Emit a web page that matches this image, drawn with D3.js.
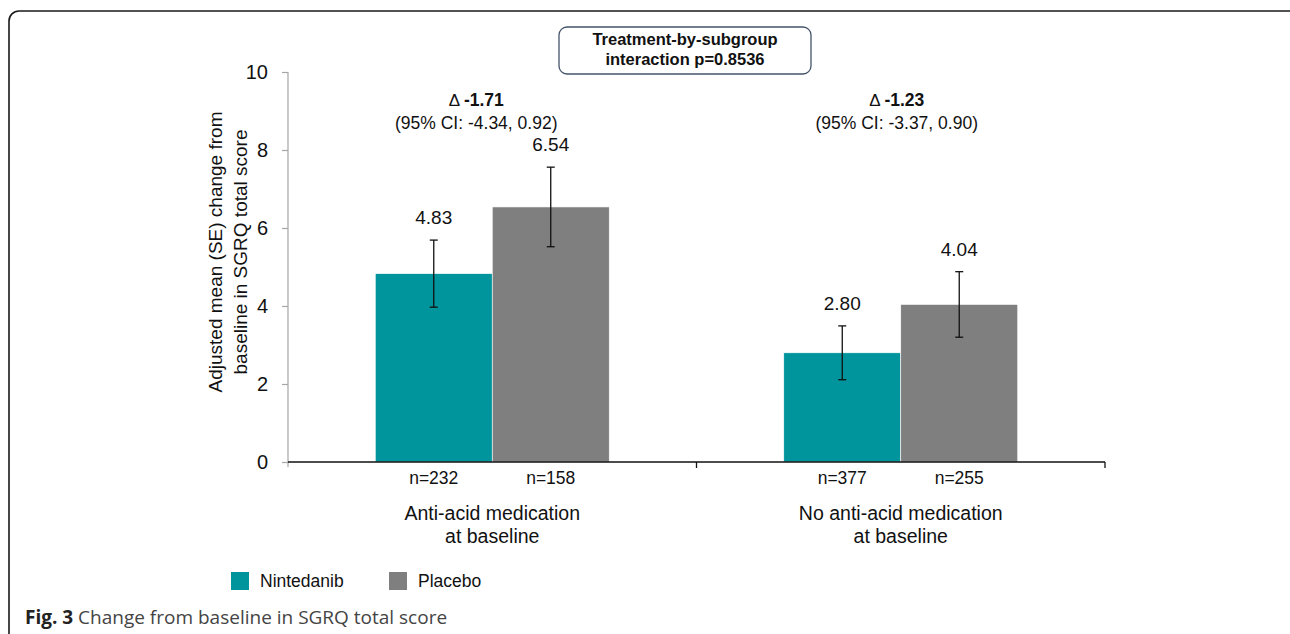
<!DOCTYPE html>
<html>
<head>
<meta charset="utf-8">
<script src="https://cdn.jsdelivr.net/npm/d3@7"></script>
<style>
  body { margin: 0; background: #fff; }
  svg { display: block; font-family: "Liberation Sans", Arial, sans-serif; }
</style>
</head>
<body>
<svg id="chart" width="1290" height="634"></svg>
<script>
// data
const groups = ['Anti-acid medication|at baseline', 'No anti-acid medication|at baseline']
const series = ['Nintedanib', 'Placebo']
const colors = ['#00949d', '#7f7f7f']
const means = [[4.83, 6.54], [2.80, 4.04]]
const errors = [[0.86, 1.02], [0.69, 0.84]]
const counts = [['n=232', 'n=158'], ['n=377', 'n=255']]
const deltas = ['-1.71', '-1.23']
const deltaCI = ['(95% CI: -4.34, 0.92)', '(95% CI: -3.37, 0.90)']
const yTicks = [0, 2, 4, 6, 8, 10]
const interaction = ['Treatment-by-subgroup', 'interaction p=0.8536']

const svg = d3.select('#chart')

// outer rounded frame (right/bottom edges run off the page)
svg.append('rect')
    .attr('x', 9).attr('y', 11)
    .attr('width', 1300).attr('height', 700)
    .attr('rx', 10)
    .attr('fill', 'none')
    .attr('stroke', '#1a1a1a')
    .attr('stroke-width', 1.6)

const margin = {left: 288, right: 185, top: 72, bottom: 172}
const width = 1290 - margin.left - margin.right
const height = 634 - margin.top - margin.bottom

const g = svg.append('g').attr('transform', `translate(${margin.left}, ${margin.top})`)

const x0 = d3.scaleBand().domain(d3.range(groups.length)).range([0, width]).paddingInner(0)
const x1 = d3.scaleBand().domain(d3.range(series.length)).range([0, x0.bandwidth()])
    .paddingInner(0).paddingOuter(0.746)
const y = d3.scaleLinear().domain([0, 10]).range([height, 0])

// y axis
const yAxis = g.append('g')
    .call(d3.axisLeft(y).tickValues(yTicks).tickSize(6).tickPadding(14).tickSizeOuter(0))
yAxis.select('.domain').attr('stroke', '#a6a6a6').attr('stroke-width', 1.2)
    .attr('d', `M0,0V${height + 5}`)
yAxis.selectAll('.tick line').attr('stroke', '#a6a6a6').attr('stroke-width', 1.2)
yAxis.selectAll('.tick text')
    .attr('font-size', 20).attr('fill', '#111')
    .attr('font-family', '"Liberation Sans", Arial, sans-serif')

// y axis title
const yTitle = g.append('text')
    .attr('transform', `translate(-66, ${height / 2 - 15}) rotate(-90)`)
    .attr('text-anchor', 'middle')
    .attr('font-size', 19)
    .attr('fill', '#111')
yTitle.append('tspan').attr('x', 0).attr('dy', 0).text('Adjusted mean (SE) change from')
yTitle.append('tspan').attr('x', 0).attr('dy', 25).text('baseline in SGRQ total score')

// bars
const grp = g.selectAll('.group').data(groups).enter().append('g')
    .attr('class', 'group')
    .attr('transform', (d, i) => `translate(${x0(i)}, 0)`)

grp.each(function(d, gi) {
    const sel = d3.select(this)
    const rows = series.map((s, si) => ({si, v: means[gi][si], e: errors[gi][si], n: counts[gi][si]}))

    sel.selectAll('rect.bar').data(rows).enter().append('rect')
        .attr('class', 'bar')
        .attr('x', r => x1(r.si))
        .attr('y', r => y(r.v))
        .attr('width', x1.bandwidth())
        .attr('height', r => y(0) - y(r.v))
        .attr('fill', r => colors[r.si])
        .attr('stroke', '#fff')
        .attr('stroke-width', 0.6)

    // error bars
    const eb = sel.selectAll('g.err').data(rows).enter().append('g')
        .attr('class', 'err')
        .attr('stroke', '#111')
        .attr('stroke-width', 1.3)
    const cx = r => x1(r.si) + x1.bandwidth() / 2
    eb.append('line')
        .attr('x1', cx).attr('x2', cx)
        .attr('y1', r => y(r.v + r.e)).attr('y2', r => y(r.v - r.e))
    eb.append('line')
        .attr('x1', r => cx(r) - 4).attr('x2', r => cx(r) + 4)
        .attr('y1', r => y(r.v + r.e)).attr('y2', r => y(r.v + r.e))
    eb.append('line')
        .attr('x1', r => cx(r) - 4).attr('x2', r => cx(r) + 4)
        .attr('y1', r => y(r.v - r.e)).attr('y2', r => y(r.v - r.e))

    // value labels
    sel.selectAll('text.val').data(rows).enter().append('text')
        .attr('class', 'val')
        .attr('x', cx)
        .attr('y', r => y(r.v + r.e) - 16)
        .attr('text-anchor', 'middle')
        .attr('font-size', 19)
        .attr('fill', '#111')
        .text(r => r.v.toFixed(2))

    // n labels
    sel.selectAll('text.n').data(rows).enter().append('text')
        .attr('class', 'n')
        .attr('x', cx)
        .attr('y', height + 22)
        .attr('text-anchor', 'middle')
        .attr('font-size', 17.5)
        .attr('fill', '#111')
        .text(r => r.n)

    // category label
    const cat = sel.append('text')
        .attr('x', x0.bandwidth() / 2)
        .attr('y', height + 58)
        .attr('text-anchor', 'middle')
        .attr('font-size', 19.5)
        .attr('fill', '#111')
    d.split('|').forEach((line, li) => {
        cat.append('tspan').attr('x', x0.bandwidth() / 2).attr('dy', li ? 23 : 0).text(line)
    })

    // delta annotation
    const dt = sel.append('text')
        .attr('x', x0.bandwidth() / 2 - (gi === 0 ? 16 : 4))
        .attr('y', 34)
        .attr('text-anchor', 'middle')
        .attr('font-size', 17.5)
        .attr('fill', '#111')
    dt.append('tspan').attr('font-size', 17).text('\u0394 ')
    dt.append('tspan').attr('font-weight', 'bold').text(deltas[gi])
    sel.append('text')
        .attr('x', x0.bandwidth() / 2 - (gi === 0 ? 16 : 4))
        .attr('y', 57)
        .attr('text-anchor', 'middle')
        .attr('font-size', 17.5)
        .attr('fill', '#111')
        .text(deltaCI[gi])
})

// x axis
const xAxis = g.append('g').attr('transform', `translate(0, ${height})`)
xAxis.append('line')
    .attr('x1', 0).attr('x2', width)
    .attr('stroke', '#111').attr('stroke-width', 1.3)
xAxis.selectAll('line.tick').data(d3.range(groups.length)).enter().append('line')
    .attr('class', 'tick')
    .attr('x1', i => x0(i) + x0.bandwidth()).attr('x2', i => x0(i) + x0.bandwidth())
    .attr('y1', 0).attr('y2', 6)
    .attr('stroke', '#111').attr('stroke-width', 1.3)

// interaction box
const box = svg.append('g').attr('transform', 'translate(559, 27)')
box.append('rect')
    .attr('width', 252).attr('height', 47).attr('rx', 8)
    .attr('fill', '#fff').attr('stroke', '#44546a').attr('stroke-width', 1.3)
interaction.forEach((t, i) => {
    box.append('text')
        .attr('x', 126).attr('y', 18 + i * 20)
        .attr('text-anchor', 'middle')
        .attr('font-size', 16.5)
        .attr('font-weight', 'bold')
        .attr('fill', '#111')
        .text(t)
})

// legend
const legend = svg.append('g').attr('transform', 'translate(231, 572)')
const legX = [0, 158]
series.forEach((s, i) => {
    legend.append('rect')
        .attr('x', legX[i]).attr('y', 0)
        .attr('width', 18).attr('height', 18)
        .attr('fill', colors[i])
    legend.append('text')
        .attr('x', legX[i] + 29).attr('y', 15)
        .attr('font-size', 17.5)
        .attr('fill', '#111')
        .text(s)
})

// caption
const cap = svg.append('text')
    .attr('x', 25).attr('y', 624)
    .attr('font-family', '"Open Sans", "Noto Sans", sans-serif')
    .attr('font-size', 19)
cap.append('tspan').attr('font-weight', 'bold').attr('fill', '#222').text('Fig. 3')
cap.append('tspan').attr('fill', '#444').text(' Change from baseline in SGRQ total score')
</script>
</body>
</html>
